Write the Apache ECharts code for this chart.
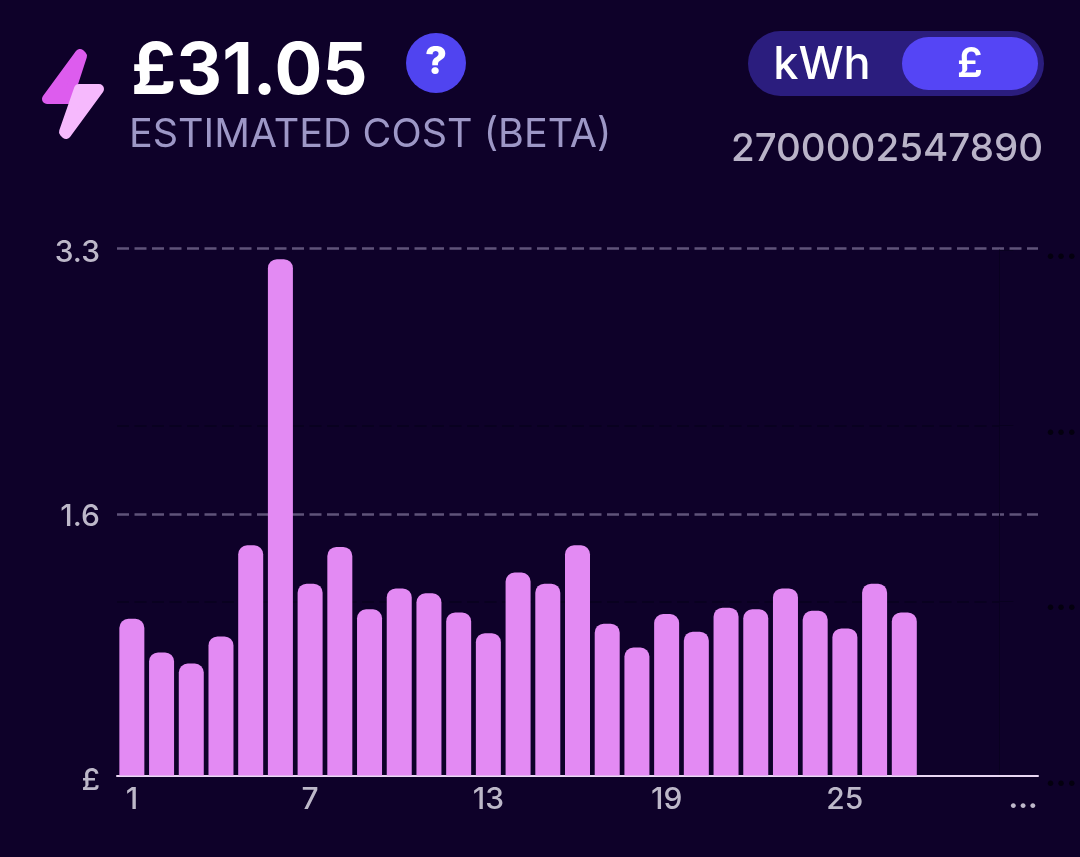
<!DOCTYPE html>
<html>
<head>
<meta charset="utf-8">
<style>html,body{margin:0;padding:0;background:#0E0129}#c{width:1080px;height:857px}</style>
<script src="https://cdn.jsdelivr.net/npm/echarts@6/dist/echarts.min.js"></script>
</head>
<body>
<div id="c"></div>
<script>
const dayLabels = ['1','','','','','','7','','','','','','13','','','','','','19','','','','','','25','','','','','','...'];
const costValues = [0.98,0.77,0.70,0.87,1.44,3.23,1.20,1.43,1.04,1.17,1.14,1.02,0.89,1.27,1.20,1.44,0.95,0.80,1.01,0.90,1.05,1.04,1.17,1.03,0.92,1.20,1.02];
const yTickValues = [0,1.636,3.3];
const yTickLabels = ['£','1.6','3.3'];
const totalText = '£31.05';
const subtitleText = 'ESTIMATED COST (BETA)';
const meterText = '2700002547890';
const FONT = 'Inter';
const LABEL_STYLE = {color:'#BDB8C9', fontFamily:FONT, fontSize:30, fontWeight:500};

const chart = echarts.init(document.getElementById('c'), null, {renderer:'canvas', width:1080, height:857});
chart.setOption({
  backgroundColor:'#0E0129',
  animation:false,
  grid:[
    {left:117, right:42, top:248, height:527.5, containLabel:false},
    {left:117, right:42, top:250, height:527, containLabel:false}
  ],
  xAxis:[
    {type:'category', gridIndex:0, data:dayLabels,
     axisLine:{show:true, lineStyle:{color:'#E8D6F2', width:2}},
     axisTick:{show:false},
     axisLabel:Object.assign({interval:0, margin:9,
       formatter:function(v){return v==='...' ? '{d|...}' : v;},
       rich:{d:Object.assign({}, LABEL_STYLE, {fontWeight:700, fontSize:29})}}, LABEL_STYLE)},
    {type:'category', gridIndex:1, data:dayLabels, show:false}
  ],
  yAxis:[
    {type:'value', gridIndex:0, min:0, max:3.3,
     axisLine:{show:false},
     axisTick:{show:false, customValues:yTickValues},
     splitLine:{show:true, showMinLine:false, lineStyle:{color:'#5F5379', width:2.5, type:[12,5.5]}},
     axisLabel:Object.assign({customValues:yTickValues, margin:17,
       formatter:function(v){return '{t'+yTickValues.indexOf(v)+'|'+yTickLabels[yTickValues.indexOf(v)]+'}';},
       rich:{
         t0:Object.assign({padding:[10,0,0,0]}, LABEL_STYLE),
         t1:Object.assign({padding:[6,0,0,0]}, LABEL_STYLE),
         t2:Object.assign({padding:[10,0,0,0]}, LABEL_STYLE)
       }}, LABEL_STYLE)},
    {type:'value', gridIndex:1, position:'right', min:0, max:3, interval:1,
     axisLine:{show:true, onZero:false, lineStyle:{color:'#090120', width:1}},
     axisTick:{show:true, length:14, lineStyle:{color:'#090120', width:1}},
     splitLine:{show:true, showMinLine:false, showMaxLine:false, lineStyle:{color:'#090120', width:2, type:[12,5.5]}},
     axisLabel:{color:'#04000f', fontFamily:FONT, fontWeight:800, fontSize:30, margin:46, padding:[48,0,0,0],
       formatter:function(){return '...';}}}
  ],
  series:[{
    type:'bar', xAxisIndex:0, yAxisIndex:0, data:costValues, barWidth:25, z:5,
    itemStyle:{color:'#E38AF3', borderRadius:[9,9,0,0]}
  }],
  graphic:[
    {type:'polygon', shape:{points:[[80,54],[82,56],[68,99],[47,99]]}, style:{fill:'#DD5CEE', stroke:'#DD5CEE', lineWidth:10, lineJoin:'round'}},
    {type:'polygon', shape:{points:[[79,89],[99,89],[66,134],[64,132]]}, style:{fill:'#F6B9FD', stroke:'#F6B9FD', lineWidth:10, lineJoin:'round'}},
    {type:'text', x:131, y:73, style:{text:totalText, fill:'#FFFFFF', font:'700 71px '+FONT, textVerticalAlign:'middle'}},
    {type:'text', x:129, y:135, style:{text:subtitleText, fill:'#9D97C6', font:'400 39.5px '+FONT, textVerticalAlign:'middle'}},
    {type:'circle', shape:{cx:436, cy:63, r:30}, style:{fill:'#5044F0'}},
    {type:'text', x:436, y:63, style:{text:'?', fill:'#FFFFFF', font:'800 38px '+FONT, textAlign:'center', textVerticalAlign:'middle'}},
    {type:'rect', shape:{x:748, y:31, width:296, height:65, r:32.5}, style:{fill:'#2B1D7E'}},
    {type:'rect', shape:{x:902, y:37, width:136, height:53, r:26.5}, style:{fill:'#5545F5'}},
    {type:'text', x:822, y:65, style:{text:'kWh', fill:'#FFFFFF', font:'500 45px '+FONT, textAlign:'center', textVerticalAlign:'middle'}},
    {type:'text', x:970, y:65, style:{text:'£', fill:'#FFFFFF', font:'600 41px '+FONT, textAlign:'center', textVerticalAlign:'middle'}},
    {type:'text', x:1043, y:149, style:{text:meterText, fill:'#B9B3C8', font:'500 38.5px '+FONT, textAlign:'right', textVerticalAlign:'middle'}}
  ]
});
</script>
</body>
</html>
